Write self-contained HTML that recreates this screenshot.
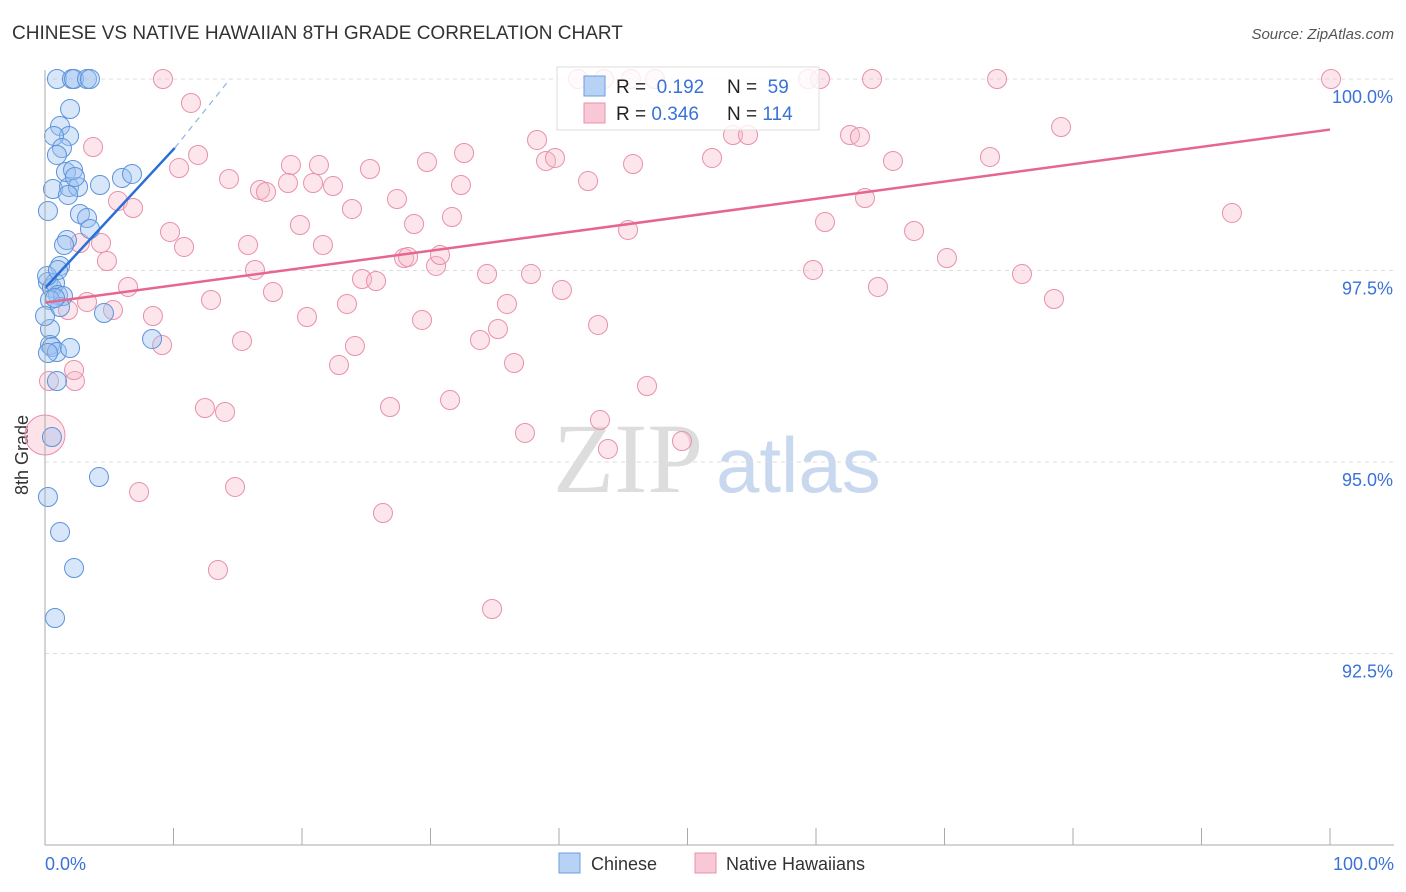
<!DOCTYPE html>
<html><head><meta charset="utf-8"><style>
body{margin:0;background:#fff;font-family:"Liberation Sans",sans-serif;}
#wrap{position:relative;width:1406px;height:892px;overflow:hidden}
</style></head><body>
<div id="wrap">
<svg id="svg" width="1406" height="892">
<text x="12" y="39" font-size="19" fill="#333">CHINESE VS NATIVE HAWAIIAN 8TH GRADE CORRELATION CHART</text>
<text x="1394" y="39" font-size="15" fill="#555" text-anchor="end" font-style="italic">Source: ZipAtlas.com</text>
<text x="28" y="455" font-size="18" fill="#333" text-anchor="middle" transform="rotate(-90 28 455)">8th Grade</text>
<text x="553" y="492" font-size="100" fill="#ddd" font-family="Liberation Serif,serif">ZIP</text>
<text x="716" y="492" font-size="78" fill="#c8d8ef">atlas</text>
<g id="grid"></g><g id="pts"></g><g id="lines"></g>
<line x1="45" y1="70" x2="45" y2="845" stroke="#aaa"/>
<line x1="45" y1="845" x2="1394" y2="845" stroke="#aaa"/>
<text x="45" y="870" font-size="18" fill="#3a72d8">0.0%</text>
<text x="1394" y="870" font-size="18" fill="#3a72d8" text-anchor="end">100.0%</text>
<g>
<rect x="557" y="67" width="262" height="63" fill="#fff" fill-opacity="0.8" stroke="#ddd"/>
<rect x="584" y="76" width="21" height="20" fill="#b8d2f5" stroke="#6a9de0"/>
<rect x="584" y="103" width="21" height="20" fill="#f9c8d6" stroke="#e890ab"/>
<text x="616" y="93" font-size="19" fill="#222">R = <tspan fill="#3a72d8">&#160;0.192</tspan><tspan x="727">N = </tspan><tspan fill="#3a72d8">&#160;59</tspan></text>
<text x="616" y="120" font-size="19" fill="#222">R = <tspan fill="#3a72d8">0.346</tspan><tspan x="727">N = </tspan><tspan fill="#3a72d8">114</tspan></text>
</g>
<g>
<rect x="559" y="853" width="21" height="20" fill="#b8d2f5" stroke="#6a9de0"/>
<text x="591" y="870" font-size="18" fill="#333">Chinese</text>
<rect x="695" y="853" width="21" height="20" fill="#f9c8d6" stroke="#e890ab"/>
<text x="726" y="870" font-size="18" fill="#333">Native Hawaiians</text>
</g>
</svg></div>
<script>
const yTicks=[100,97.5,95,92.5];
const yTickLabels=["100.0%","97.5%","95.0%","92.5%"];
const xTicks=[0,10,20,30,40,50,60,70,80,90,100];
const bluePx=[[57,79],[72,79],[74,79],[87,79],[90,79],[70,109],[60,126],[69,136],[54,136],[62,148],[57,155],[53,189],[69,187],[78,187],[66,172],[73,170],[75,177],[100,185],[122,178],[132,174],[48,211],[68,195],[80,214],[87,218],[90,229],[67,240],[64,245],[60,266],[48,282],[52,288],[55,283],[58,295],[63,296],[50,300],[60,307],[104,313],[152,339],[50,329],[50,345],[52,347],[57,352],[48,353],[70,348],[57,381],[52,437],[99,477],[48,497],[60,532],[74,568],[55,618],[55,298],[47,276],[58,270],[45,316]];
const pinkPx=[[163,79],[578,79],[604,79],[631,79],[655,79],[808,79],[820,79],[872,79],[997,79],[1331,79],[191,103],[93,147],[198,155],[179,168],[229,179],[118,201],[133,208],[170,232],[184,247],[101,243],[80,243],[107,261],[128,287],[87,302],[113,310],[153,316],[162,345],[75,381],[68,310],[49,381],[74,370],[205,408],[225,412],[139,492],[235,487],[218,570],[383,513],[492,609],[242,341],[211,300],[248,245],[255,270],[260,190],[266,192],[273,292],[291,165],[288,183],[300,225],[313,183],[319,165],[333,186],[323,245],[307,317],[347,304],[339,365],[352,209],[355,346],[362,279],[370,169],[376,281],[397,199],[404,258],[408,257],[414,224],[390,407],[422,320],[427,162],[436,266],[440,255],[452,217],[461,185],[464,153],[450,400],[480,340],[487,274],[498,329],[507,304],[514,363],[525,433],[531,274],[537,140],[546,161],[555,158],[562,290],[588,181],[598,325],[600,420],[608,449],[628,230],[633,164],[647,386],[682,441],[712,158],[733,135],[748,135],[813,270],[825,222],[850,135],[860,137],[865,198],[878,287],[893,161],[914,231],[947,258],[990,157],[1022,274],[1054,299],[1061,127],[1232,213]];
const blueX=bluePx.map(p=>+((p[0]-45)/12.85).toFixed(2));
const blueY=bluePx.map(p=>+(100-(p[1]-79)/76.6).toFixed(3));
const pinkX=pinkPx.map(p=>+((p[0]-45)/12.85).toFixed(2));
const pinkY=pinkPx.map(p=>+(100-(p[1]-79)/76.6).toFixed(3));
const blueTrend=[[0,97.27],[10.1,99.1],[14.4,100]];
const pinkTrend=[[0,97.08],[100,99.34]];
const X=v=>45+v*12.85, Y=v=>79+(100-v)*76.6;
const NS="http://www.w3.org/2000/svg";
function mk(t,a,p){const e=document.createElementNS(NS,t);for(const k in a)e.setAttribute(k,a[k]);p.appendChild(e);return e;}
const grid=document.getElementById('grid'),pts=document.getElementById('pts'),lines=document.getElementById('lines'),svg=document.getElementById('svg');
yTicks.forEach((t,i)=>{
 const l=mk('line',{x1:45,x2:1394,y1:Y(t),y2:Y(t),stroke:'#ddd','stroke-dasharray':'4,4'},grid);
 
 
 const tx=mk('text',{x:1393,y:Y(t)+24,'font-size':18,fill:'#3a72d8','text-anchor':'end'},svg);
 tx.textContent=yTickLabels[i];
 
 
});
xTicks.forEach(t=>{
 const l=mk('line',{x1:X(t),x2:X(t),y1:828,y2:845,stroke:'#aaa'},grid);
 
 
});
pinkX.forEach((x,i)=>{
 const c=mk('circle',{cx:X(x),cy:Y(pinkY[i]),r:9.5,fill:'#f7b6c9','fill-opacity':0.35,stroke:'#e98fac','stroke-width':1},pts);
 
 
});
const big=mk('circle',{cx:45,cy:435,r:20,fill:'#f7b6c9','fill-opacity':0.4,stroke:'#e98fac'},pts);


blueX.forEach((x,i)=>{
 const c=mk('circle',{cx:X(x),cy:Y(blueY[i]),r:9.5,fill:'#9cc0f0','fill-opacity':0.4,stroke:'#5c93dc','stroke-width':1},pts);
 
 
});
let l=mk('line',{x1:X(pinkTrend[0][0]),y1:Y(pinkTrend[0][1]),x2:X(pinkTrend[1][0]),y2:Y(pinkTrend[1][1]),stroke:'#e5668f','stroke-width':2.5},lines);


l=mk('line',{x1:X(blueTrend[0][0]),y1:Y(blueTrend[0][1]),x2:X(blueTrend[1][0]),y2:Y(blueTrend[1][1]),stroke:'#2a6fd6','stroke-width':2.5},lines);


l=mk('line',{x1:X(blueTrend[1][0]),y1:Y(blueTrend[1][1]),x2:X(blueTrend[2][0]),y2:Y(blueTrend[2][1]),stroke:'#8fb3e8','stroke-width':1.2,'stroke-dasharray':'6,5'},lines);


</script>
</body></html>
